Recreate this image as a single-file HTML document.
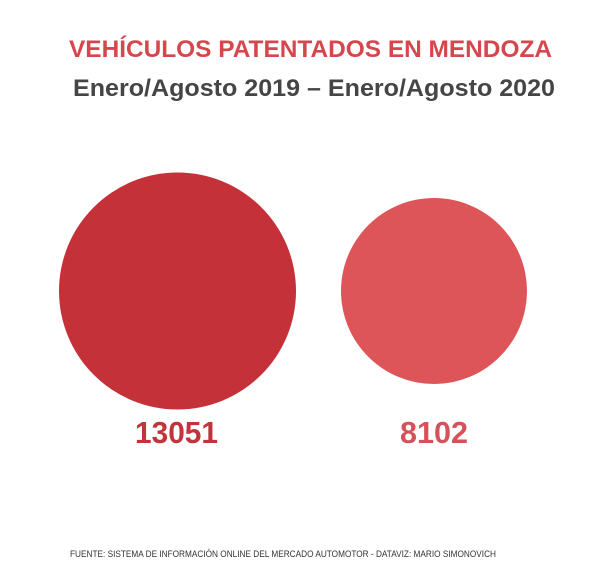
<!DOCTYPE html>
<html><head><meta charset="utf-8"><style>html,body{margin:0;padding:0;background:#fff}svg{display:block}</style></head>
<body>
<svg width="604" height="570" viewBox="0 0 604 570" xmlns="http://www.w3.org/2000/svg" font-family="Liberation Sans, sans-serif">
<rect width="604" height="570" fill="#fff"/>
<text x="69" y="57" font-size="24" font-weight="bold" fill="#d5474d" textLength="483" lengthAdjust="spacingAndGlyphs">VEHÍCULOS PATENTADOS EN MENDOZA</text>
<text x="73" y="96" font-size="24" font-weight="bold" fill="#454545" textLength="482" lengthAdjust="spacingAndGlyphs">Enero/Agosto 2019 – Enero/Agosto 2020</text>
<circle cx="177.5" cy="291" r="118.5" fill="#c53138"/>
<circle cx="434" cy="291" r="93" fill="#dd5558"/>
<text x="135" y="443" font-size="31" font-weight="bold" fill="#c0353c" textLength="83" lengthAdjust="spacingAndGlyphs">13051</text>
<text x="400" y="443" font-size="31" font-weight="bold" fill="#d5525a" textLength="68" lengthAdjust="spacingAndGlyphs">8102</text>
<text x="70" y="557" font-size="9.5" fill="#333" textLength="426" lengthAdjust="spacingAndGlyphs">FUENTE:  SISTEMA DE INFORMACIÓN ONLINE DEL MERCADO AUTOMOTOR - DATAVIZ: MARIO SIMONOVICH</text>
</svg>
</body></html>
